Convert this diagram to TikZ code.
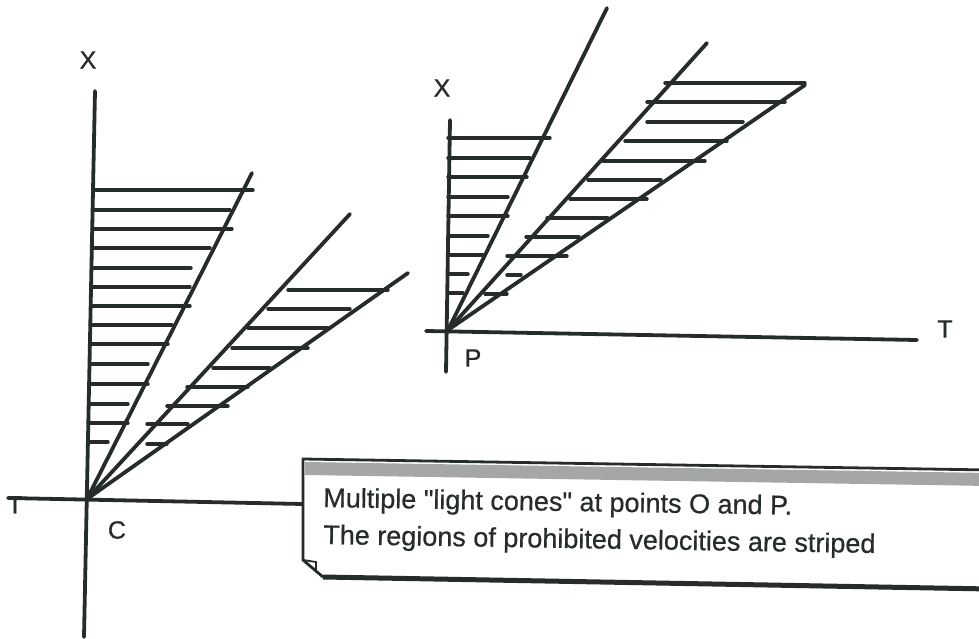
\documentclass[tikz,border=0pt]{standalone}
\usepackage{fontspec}
\setmainfont{Liberation Sans}
\newfontfamily\notefont{Liberation Sans}[FakeBold=0.6]
\newfontfamily\lblfont{Liberation Sans}[FakeBold=0.8]
\definecolor{ink}{RGB}{38,44,42}
\definecolor{band}{RGB}{165,167,165}
\begin{document}
\begin{tikzpicture}[x=1pt,y=-1pt,
  axis/.style={draw=ink,line width=3.8pt,line cap=round},
  cone/.style={draw=ink,line width=3.8pt,line cap=round},
  hatch/.style={draw=ink,line width=3.4pt,line cap=round},
  lbl/.style={text=ink,inner sep=0pt,font=\lblfont\fontsize{25}{30}\selectfont},
  note/.style={text=ink,inner sep=0pt,anchor=base west,rotate=-0.93,font=\notefont\fontsize{27}{36}\selectfont}]
\useasboundingbox (0,0) rectangle (979,639);
\clip (0,0) rectangle (979,639);
% ---------- left diagram ----------
\coordinate (O) at (87,499);
\coordinate (vtopO) at (95,91);
\coordinate (vbotO) at (84,637);
\coordinate (tleftO) at (8,498);
\coordinate (trightO) at (303,504);
\coordinate (a1) at (252,173);
\coordinate (a2) at (350,214);
\coordinate (a3) at (408,273);
\draw[axis] (vtopO) -- (vbotO);
\draw[axis] (tleftO) -- (trightO);
\draw[cone] (O) -- (a1);
\draw[cone] (O) -- (a2);
\draw[cone] (O) -- (a3);
\foreach \y/\xe in {190/253,210/230,229/232,248/210,268/191,287/190,306/190,325/172,344/168,364/148,384/148,404/128,423/128,442/108}
  \draw[hatch] ({95-11*(\y-91)/546},\y) -- (\xe,\y);
\foreach \y/\xs/\xe in {290/288/388,309/268/350,328/248/328,348/232/308,368/213/270,387/187/248,406/167/228,424/147/188,444/147/167}
  \draw[hatch] (\xs,\y) -- (\xe,\y);
\node[lbl] (XO) at (88,60) {X};
\node[lbl] (CO) at (117,530) {C};
\node[lbl,anchor=north] (TO) at (15,496) {T};
% ---------- right diagram ----------
\coordinate (P) at (448,330);
\coordinate (vtopP) at (450,120);
\coordinate (vbotP) at (446,372);
\coordinate (tleftP) at (426,331);
\coordinate (trightP) at (917,340);
\coordinate (b1) at (607,8);
\coordinate (b2) at (707,43);
\coordinate (b3) at (805,85);
\draw[axis] (vtopP) -- (vbotP);
\draw[axis] (tleftP) -- (trightP);
\draw[cone] (P) -- (b1);
\draw[cone] (P) -- (b2);
\draw[cone] (P) -- (b3);
\foreach \y/\xe in {138/550,158/530,177/527,197/508,216/508,236/488,255/483,274/468,293/463}
  \draw[hatch] (448,\y) -- (\xe,\y);
\foreach \y/\xs/\xe in {83/665/805,102/647/785,122/647/743,141/625/727,161/603/705,180/588/661,199/570/647,218/547/608,237/526/579,256/507/567,275/507/521,294/485/507}
  \draw[hatch] (\xs,\y) -- (\xe,\y);
\node[lbl] (XP) at (442,88) {X};
\node[lbl] (PP) at (473,358) {P};
\node[lbl] (TP) at (945,329) {T};
% ---------- note box ----------
\fill[white] (303,459) -- (990,470) -- (990,589) -- (323,577) -- (303,560) -- cycle;
\fill[band] (305,462) -- (990,473) -- (990,486) -- (305,475) -- cycle;
\draw[ink,line width=2.8pt] (990,470) -- (303,459) -- (303,560) -- (323,577);
\draw[ink,line width=5pt] (323,577) -- (990,589);
\draw[ink,line width=1.8pt] (303,560) -- (316,562) -- (316,572);
\node[note] (n1) at (323,507) {Multiple "light cones" at points O and P.};
\node[note] (n2) at (323,544) {The regions of prohibited velocities are striped};
\end{tikzpicture}
\end{document}
